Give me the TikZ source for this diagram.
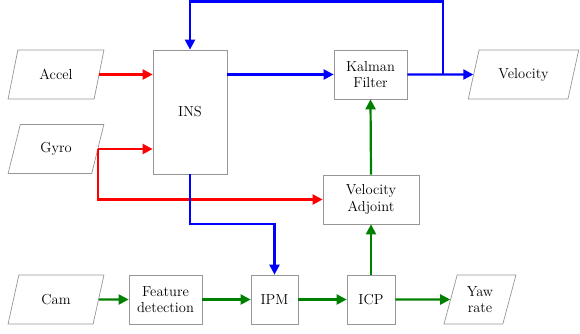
\documentclass[tikz,border=0pt]{standalone}
\usetikzlibrary{arrows.meta,shapes.geometric}
\definecolor{boxgray}{RGB}{150,150,150}
\definecolor{dkgreen}{RGB}{0,128,0}

\begin{document}
\begin{tikzpicture}[x=1pt,y=-1pt,
    font=\fontsize{14.5}{16.5}\selectfont,
    blk/.style={draw=boxgray,line width=0.7pt,align=center,inner sep=0pt,
                minimum height=49pt},
    io/.style={blk,trapezium,trapezium left angle=68,trapezium right angle=112,
               trapezium stretches=true},
    flow/.style={line width=2.2pt,-{Triangle[length=10pt,width=10pt]}}]
     \useasboundingbox (0,0) rectangle (580,333);
     \node[io,minimum width=96pt] (accel) at ( 56, 74.5) {Accel};
     \node[io,minimum width=96pt] (gyro)  at ( 56,149)   {Gyro};
     \node[io,minimum width=96pt] (cam)   at ( 56,299.5) {Cam};
     \node[blk,minimum width=74pt,minimum height=124pt] (ins) at (190,112) {INS};
     \node[blk,minimum width=73pt] (kf)  at (370.5, 74.5) {Kalman\\Filter};
     \node[io,minimum width=111pt,trapezium left angle=65,trapezium right angle=115]
          (vel) at (523.5,74.5) {Velocity};
     \node[blk,minimum width=96pt] (va)  at (371,199.5) {Velocity\\Adjoint};
     \node[blk,minimum width=73pt] (fd)  at (165.5,299.5) {Feature\\detection};
     \node[blk,minimum width=47pt] (ipm) at (274.5,299.5) {IPM};
     \node[blk,minimum width=48pt] (icp) at (371,299.5) {ICP};
     \node[io,minimum width=72pt,trapezium left angle=74,trapezium right angle=106]
          (yaw) at (480,299.5) {Yaw\\rate};
     \coordinate (fb)     at (443,74.5);
     \coordinate (fbtop)  at (443,1.5);
     \coordinate (insbend) at (190,224);
     \draw[flow,red] (accel.east) -- (accel.east -| ins.west);
     \draw[flow,red] (gyro.east) -- (gyro.east -| ins.west);
     \draw[flow,red] (gyro.east) -- (gyro.east |- va.west) -- (va.west);
     \draw[flow,blue] (ins.east |- kf.west) -- (kf.west);
     \draw[flow,blue] (kf.east) -- (vel.west);
     \draw[flow,blue] (fb) -- (fbtop) -| (ins.north);
     \draw[flow,blue] (ins.south) -- (insbend) -| (ipm.north);
     \draw[flow,dkgreen] (cam.east) -- (fd.west);
     \draw[flow,dkgreen] (fd.east) -- (ipm.west);
     \draw[flow,dkgreen] (ipm.east) -- (icp.west);
     \draw[flow,dkgreen] (icp.east) -- (yaw.west);
     \draw[flow,dkgreen] (icp.north) -- (va.south);
     \draw[flow,dkgreen] (va.north) -- (kf.south);
    \end{tikzpicture}
\end{document}
